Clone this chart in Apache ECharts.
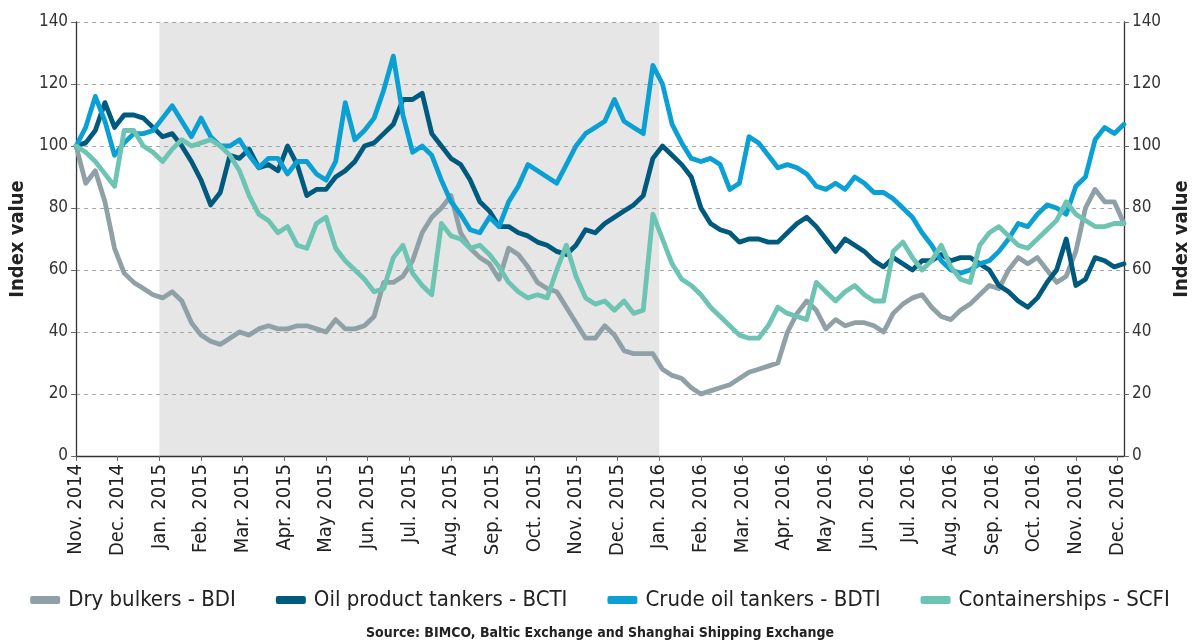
<!DOCTYPE html>
<html>
<head>
<meta charset="utf-8">
<script src="https://cdn.jsdelivr.net/npm/echarts@6/dist/echarts.min.js"></script>
<style>
html,body{margin:0;padding:0;background:#fff;}
#chart{width:1200px;height:640px;}
</style>
</head>
<body>
<div id="chart"></div>
<script>
// Month tick labels (x axis), one per month from Nov. 2014 to Dec. 2016
var monthLabels = ['Nov. 2014','Dec. 2014','Jan. 2015','Feb. 2015','Mar. 2015','Apr. 2015','May 2015','Jun. 2015','Jul. 2015','Aug. 2015','Sep. 2015','Oct. 2015','Nov. 2015','Dec. 2015','Jan. 2016','Feb. 2016','Mar. 2016','Apr. 2016','May 2016','Jun. 2016','Jul. 2016','Aug. 2016','Sep. 2016','Oct. 2016','Nov. 2016','Dec. 2016'];

// Shaded period (month index of start / end)
var shadeStart = 2;   // Jan. 2015
var shadeEnd = 14;    // Jan. 2016

// Weekly index values (Nov. 2014 = 100)
var dryBulkersBDI = [100,88,92,82,67,59,56,54,52,51,53,50,43,39,37,36,38,40,39,41,42,41,41,42,42,41,40,44,41,41,42,45,56,56,58,63,72,77,80,84,72,67,64,62,57,67,65,61,56,54,53,48,43,38,38,42,39,34,33,33,33,28,26,25,22,20,21,22,23,25,27,28,29,30,40,46,50,47,41,44,42,43,43,42,40,46,49,51,52,48,45,44,47,49,52,55,54,60,64,62,64,60,56,58,66,80,86,82,82,75];

var oilProductBCTI = [100,101,105,114,106,110,110,109,106,103,104,100,95,89,81,85,97,96,99,93,94,92,100,94,84,86,86,90,92,95,100,101,104,107,115,115,117,104,100,96,94,89,82,79,74,74,72,71,69,68,66,65,68,73,72,75,77,79,81,84,96,100,97,94,90,80,75,73,72,69,70,70,69,69,72,75,77,74,70,66,70,68,66,63,61,64,62,60,63,63,65,63,64,64,62,60,55,53,50,48,51,56,60,70,55,57,64,63,61,62];

var crudeOilBDTI = [100,106,116,108,97,101,104,104,105,109,113,108,103,109,103,100,100,102,97,93,96,96,91,95,95,91,89,95,114,102,105,109,118,129,110,98,100,97,89,82,78,73,72,77,74,82,87,94,92,90,88,94,100,104,106,108,115,108,106,104,126,120,107,101,96,95,96,94,86,88,103,101,97,93,94,93,91,87,86,88,86,90,88,85,85,83,80,77,72,68,63,60,59,60,62,63,66,70,75,74,78,81,80,78,87,90,102,106,104,107];

var containershipsSCFI = [100,98,95,91,87,105,105,100,98,95,99,102,100,101,102,100,97,92,84,78,76,72,74,68,67,75,77,67,63,60,57,53,54,64,68,59,55,52,75,71,70,67,68,65,61,56,53,51,52,51,60,68,58,51,49,50,47,50,46,47,78,70,62,57,55,52,48,45,42,39,38,38,42,48,46,45,44,56,53,50,53,55,52,50,50,66,69,64,60,63,68,61,57,56,68,72,74,71,68,67,70,73,76,82,78,76,74,74,75,75];

var seriesNames = ['Dry bulkers - BDI','Oil product tankers - BCTI','Crude oil tankers - BDTI','Containerships - SCFI'];
var seriesValues = [dryBulkersBDI, oilProductBCTI, crudeOilBDTI, containershipsSCFI];
var seriesColors = ['#8fa1a6','#005a7e','#0aa0d4','#6dc4b2'];

var weeksPerMonth = 52/12;
var lastX = (dryBulkersBDI.length - 1) / weeksPerMonth;

function toPoints(vals){
  return vals.map(function(v,i){ return [i/weeksPerMonth, v]; });
}

var FONT = "'Liberation Sans Narrow','DejaVu Sans Condensed','Arial Narrow',sans-serif";

var series = [{
  name: 'shade',
  type: 'line',
  data: [],
  z: 0,
  silent: true,
  markArea: {
    silent: true,
    z: 0,
    itemStyle: { color: '#e6e6e6' },
    data: [[{ xAxis: shadeStart }, { xAxis: shadeEnd }]]
  }
}];
seriesNames.forEach(function(n, k){
  series.push({
    name: n,
    type: 'line',
    data: toPoints(seriesValues[k]),
    showSymbol: false,
    symbol: 'none',
    z: 3,
    lineStyle: { width: 4.8, color: seriesColors[k], join: 'round', cap: 'round' },
    itemStyle: { color: seriesColors[k] }
  });
});

var yCommon = {
  type: 'value',
  min: 0, max: 140, interval: 20,
  name: 'Index value',
  nameLocation: 'middle',
  nameRotate: 90,
  nameTextStyle: { fontFamily: FONT, fontSize: 20, fontWeight: 'bold', color: '#222' },
  axisLine: { show: true, lineStyle: { color: '#333', width: 1.3 } },
  axisTick: { show: true, length: 5, lineStyle: { color: '#666' } },
  axisLabel: { fontFamily: FONT, fontSize: 17, color: '#333', margin: 8 }
};

var option = {
  backgroundColor: '#ffffff',
  animation: false,
  title: {
    text: 'Source: BIMCO, Baltic Exchange and Shanghai Shipping Exchange',
    left: 'center',
    top: 621,
    textStyle: { fontFamily: FONT, fontSize: 14, fontWeight: 'bold', color: '#222' }
  },
  legend: {
    data: seriesNames,
    left: 'center',
    top: 584,
    icon: 'roundRect',
    itemWidth: 30,
    itemHeight: 8,
    itemGap: 40,
    textStyle: { fontFamily: FONT, fontSize: 22, color: '#222', padding: [0,0,0,3] }
  },
  grid: { left: 74, right: 70, top: 22, bottom: 184, containLabel: false },
  xAxis: {
    type: 'value',
    min: 0,
    max: lastX,
    interval: 1,
    z: 1,
    axisLine: { show: true, onZero: false, lineStyle: { color: '#333', width: 1.3 } },
    axisTick: { show: true, length: 5, lineStyle: { color: '#666' } },
    splitLine: { show: false },
    axisLabel: {
      rotate: 90,
      fontFamily: FONT,
      fontSize: 20,
      color: '#222',
      margin: 8,
      showMaxLabel: false,
      formatter: function(v){
        var r = Math.round(v);
        return (Math.abs(v - r) < 1e-6 && monthLabels[r]) ? monthLabels[r] : '';
      }
    }
  },
  yAxis: [
    Object.assign({}, yCommon, {
      position: 'left',
      nameGap: 44,
      z: 1,
      splitLine: { show: true, lineStyle: { color: '#a6a6a6', type: [4,4], width: 1 } }
    }),
    Object.assign({}, yCommon, {
      position: 'right',
      nameGap: 48,
      z: 1,
      splitLine: { show: false }
    })
  ],
  series: series
};

var chart = echarts.init(document.getElementById('chart'), null, { renderer: 'canvas' });
chart.setOption(option);
</script>
</body>
</html>
